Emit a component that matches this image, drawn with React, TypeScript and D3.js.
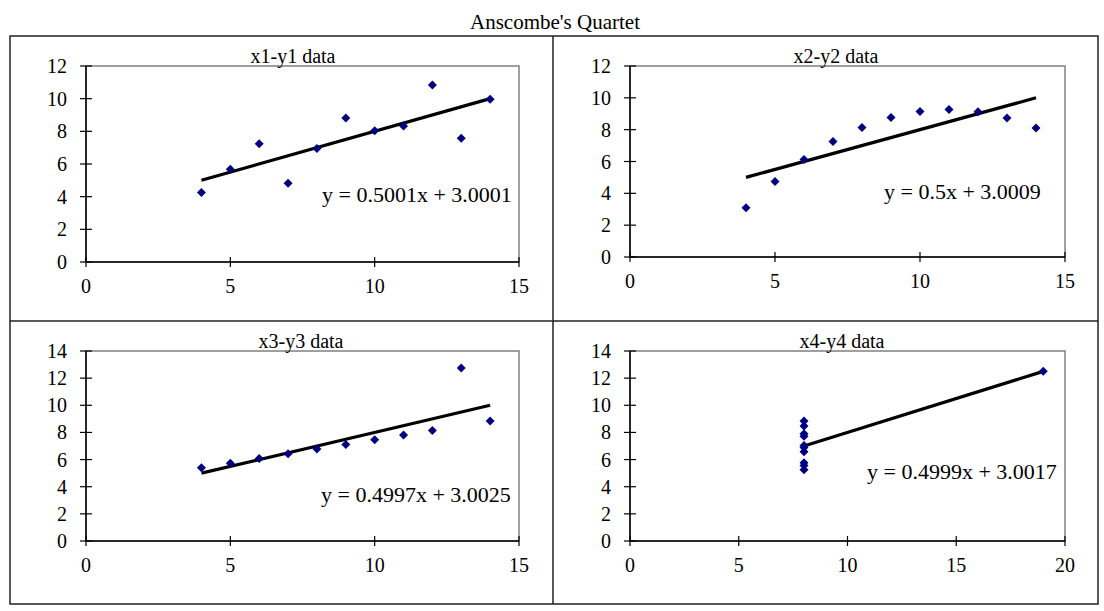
import * as d3 from "d3";

// Anscombe's quartet
const x123 = [10, 8, 13, 9, 11, 14, 6, 4, 12, 7, 5];
const y1 = [8.04, 6.95, 7.58, 8.81, 8.33, 9.96, 7.24, 4.26, 10.84, 4.82, 5.68];
const y2 = [9.14, 8.14, 8.74, 8.77, 9.26, 8.1, 6.13, 3.1, 9.13, 7.26, 4.74];
const y3 = [7.46, 6.77, 12.74, 7.11, 7.81, 8.84, 6.08, 5.39, 8.15, 6.42, 5.73];
const x4 = [8, 8, 8, 8, 8, 8, 8, 19, 8, 8, 8];
const y4 = [6.58, 5.76, 7.71, 8.84, 8.47, 7.04, 5.25, 12.5, 5.56, 7.91, 6.89];

const titles = ["x1-y1 data", "x2-y2 data", "x3-y3 data", "x4-y4 data"];
const slopes = [0.5001, 0.5, 0.4997, 0.4999];
const intercepts = [3.0001, 3.0009, 3.0025, 3.0017];
const equations = [
  "y = 0.5001x + 3.0001",
  "y = 0.5x + 3.0009",
  "y = 0.4997x + 3.0025",
  "y = 0.4999x + 3.0017",
];
const xMax = [15, 15, 15, 20];
const yMax = [12, 12, 14, 14];

const xs = [x123, x123, x123, x4];
const ys = [y1, y2, y3, y4];

// layout: plot rect, title pos, equation pos
const layout = [
  { l: 86, t: 66, r: 519, b: 262, tx: 293, ty: 63, ex: 322, ey: 202 },
  { l: 630, t: 66, r: 1065, b: 257, tx: 836, ty: 63, ex: 884, ey: 199 },
  { l: 86, t: 351, r: 519, b: 541, tx: 301, ty: 348, ex: 321, ey: 502 },
  { l: 630, t: 351, r: 1065, b: 541, tx: 842, ty: 348, ex: 867, ey: 479 },
];

const FONT = "'Liberation Serif', 'Times New Roman', serif";
const NAVY = "#000080";

function Panel({ i }: { i: number }) {
  const L = layout[i];
  const x = d3.scaleLinear().domain([0, xMax[i]]).range([L.l, L.r]);
  const y = d3.scaleLinear().domain([0, yMax[i]]).range([L.b, L.t]);
  const xt = d3.range(0, xMax[i] + 1, 5);
  const yt = d3.range(0, yMax[i] + 1, 2);
  const [x0, x1] = d3.extent(xs[i]) as [number, number];
  const fit = (v: number) => slopes[i] * v + intercepts[i];
  const pts = xs[i].map((v, k) => [v, ys[i][k]]);
  const diamond = "M0,-4.5L4.5,0L0,4.5L-4.5,0Z";

  return (
    <g fontFamily={FONT} fill="#000">
      <rect
        x={L.l}
        y={L.t}
        width={L.r - L.l}
        height={L.b - L.t}
        fill="#fff"
        stroke="#808080"
        strokeWidth={1.5}
      />
      <line x1={L.l} x2={L.r} y1={L.b} y2={L.b} stroke="#000" strokeWidth={1.5} />
      <line x1={L.l} x2={L.l} y1={L.t} y2={L.b} stroke="#000" strokeWidth={1.5} />
      {xt.map((t) => (
        <g key={"x" + t}>
          <line x1={x(t)} x2={x(t)} y1={L.b - 5} y2={L.b + 5} stroke="#000" strokeWidth={1.2} />
          <text x={x(t)} y={L.b + 31} textAnchor="middle" fontSize={20}>
            {t}
          </text>
        </g>
      ))}
      {yt.map((t) => (
        <g key={"y" + t}>
          <line x1={L.l - 6} x2={L.l + 6} y1={y(t)} y2={y(t)} stroke="#000" strokeWidth={1.2} />
          <text x={L.l - 19} y={y(t)} dy="0.35em" textAnchor="end" fontSize={20}>
            {t}
          </text>
        </g>
      ))}
      <line
        x1={x(x0)}
        y1={y(fit(x0))}
        x2={x(x1)}
        y2={y(fit(x1))}
        stroke="#000"
        strokeWidth={3.2}
      />
      {pts.map(([a, b], k) => (
        <path key={k} d={diamond} transform={`translate(${x(a)},${y(b)})`} fill={NAVY} />
      ))}
      <text x={L.tx} y={L.ty} textAnchor="middle" fontSize={20}>
        {titles[i]}
      </text>
      <text x={L.ex} y={L.ey} fontSize={22}>
        {equations[i]}
      </text>
    </g>
  );
}

export default function App() {
  return (
    <svg
      width={1104}
      height={611}
      style={{ position: "absolute", left: 0, top: 0, background: "#fff" }}
    >
      <rect x={0} y={0} width={1104} height={611} fill="#fff" />
      <text x={555} y={29} textAnchor="middle" fontFamily={FONT} fontSize={21}>
        Anscombe's Quartet
      </text>
      <rect x={10} y={36} width={1088} height={568} fill="none" stroke="#222" strokeWidth={1.5} />
      <line x1={553} x2={553} y1={36} y2={604} stroke="#222" strokeWidth={1.5} />
      <line x1={10} x2={1098} y1={321} y2={321} stroke="#222" strokeWidth={1.5} />
      {[0, 1, 2, 3].map((i) => (
        <Panel key={i} i={i} />
      ))}
    </svg>
  );
}
